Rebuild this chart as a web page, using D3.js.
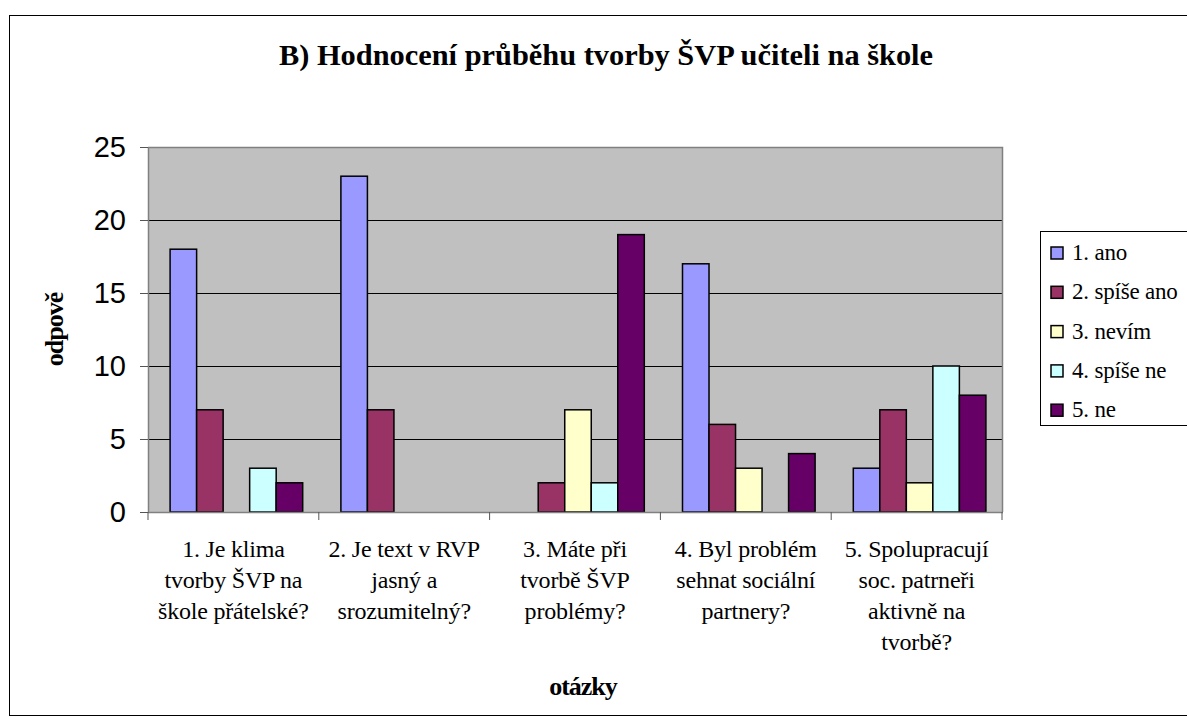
<!DOCTYPE html>
<html><head><meta charset="utf-8">
<script src="https://cdn.jsdelivr.net/npm/d3@7"></script>
<style>
html,body{margin:0;padding:0;background:#fff;}
svg{display:block;}
.serif{font-family:"Liberation Serif","Times New Roman",serif;}
.sans{font-family:"Liberation Sans",Arial,sans-serif;}
</style></head>
<body>
<svg id="chart" width="1187" height="725"></svg>
<script>
const categories = [
  ["1. Je klima","tvorby ŠVP na","škole přátelské?"],
  ["2. Je text v RVP","jasný a","srozumitelný?"],
  ["3. Máte při","tvorbě ŠVP","problémy?"],
  ["4. Byl problém","sehnat sociální","partnery?"],
  ["5. Spolupracují","soc. patrneři","aktivně na","tvorbě?"]
];
const seriesNames = ["1. ano","2. spíše ano","3. nevím","4. spíše ne","5. ne"];
const seriesColors = ["#9999FF","#993366","#FFFFCC","#CCFFFF","#660066"];
const ano      = [18,23,0,17,3];
const spiseAno = [7,7,2,6,7];
const nevim    = [0,0,7,3,2];
const spiseNe  = [3,0,2,0,10];
const ne       = [2,0,19,4,8];
const yTicks = [0,5,10,15,20,25];
const titleText = "B) Hodnocení průběhu tvorby ŠVP učiteli na škole";
const yTitle = "odpově";
const xTitle = "otázky";

const values = [ano, spiseAno, nevim, spiseNe, ne];
const svg = d3.select("#chart");

// outer border
svg.append("rect").attr("x",9.5).attr("y",15.5).attr("width",1200).attr("height",700)
  .attr("fill","#fff").attr("stroke","#000").attr("stroke-width",1);

const L=148, R=1002, T=147, B=512;
const x0 = d3.scaleBand().domain(d3.range(categories.length)).range([L,R]).padding(0);
const x1 = d3.scaleBand().domain(d3.range(seriesNames.length)).range([0,x0.bandwidth()]).paddingInner(0).paddingOuter(0.72);
const y = d3.scaleLinear().domain([0,25]).range([B,T]);

svg.append("rect").attr("x",L).attr("y",T).attr("width",R-L).attr("height",B-T).attr("fill","#C0C0C0");

// gridlines
svg.append("g").selectAll("line").data(yTicks.filter(d=>d>0&&d<25)).join("line")
  .attr("x1",L).attr("x2",R).attr("y1",d=>Math.round(y(d))+0.5).attr("y2",d=>Math.round(y(d))+0.5)
  .attr("stroke","#000").attr("stroke-width",1);
// plot border top/right
svg.append("path").attr("d",`M${L},${T+0.5}H${R+0.5}V${B}`).attr("fill","none").attr("stroke","#808080").attr("stroke-width",1.5);

// bars
const groups = svg.append("g").selectAll("g").data(categories).join("g")
  .attr("transform",(d,i)=>`translate(${x0(i)+3},0)`);
groups.selectAll("rect").data((d,i)=>values.map((s,j)=>({v:s[i],j}))).join("rect")
  .filter(d=>d.v>0)
  .attr("x",d=>x1(d.j)).attr("width",x1.bandwidth())
  .attr("y",d=>y(d.v)).attr("height",d=>y(0)-y(d.v))
  .attr("fill",d=>seriesColors[d.j]).attr("stroke","#000").attr("stroke-width",1.5);

// y axis
const yAxis = svg.append("g").attr("transform",`translate(${L},0)`)
  .call(d3.axisLeft(y).tickValues(yTicks).tickSize(8).tickPadding(14).tickSizeOuter(0));
yAxis.attr("font-family",null).attr("font-size",null);
yAxis.select(".domain").attr("stroke","#808080").attr("stroke-width",1.5);
yAxis.selectAll(".tick line").attr("stroke","#555");
yAxis.selectAll("text").attr("class","sans").style("font-size","29px").attr("fill","#000");

// x axis
const xAxis = svg.append("g").attr("transform",`translate(0,${B})`);
xAxis.append("line").attr("x1",L).attr("x2",R+1).attr("y1",0.5).attr("y2",0.5).attr("stroke","#808080").attr("stroke-width",1.5);
xAxis.selectAll("line.tk").data(d3.range(categories.length+1)).join("line").attr("class","tk")
  .attr("x1",i=>i<categories.length?x0(i):R).attr("x2",i=>i<categories.length?x0(i):R)
  .attr("y1",0).attr("y2",8).attr("stroke","#555");
const lab = xAxis.selectAll("text.cl").data(categories).join("text").attr("class","cl serif")
  .attr("text-anchor","middle").style("font-size","24px").style("letter-spacing","-0.2px")
  .attr("fill","#000");
lab.each(function(lines,i){
  d3.select(this).selectAll("tspan").data(lines).join("tspan")
    .attr("x",x0(i)+x0.bandwidth()/2).attr("y",(d,k)=>45+k*31).text(d=>d);
});

// titles
svg.append("text").attr("class","serif").attr("x",606).attr("y",65).attr("text-anchor","middle")
  .style("font-weight","bold").style("font-size","30px")
  .attr("textLength",654).attr("lengthAdjust","spacingAndGlyphs").text(titleText);
svg.append("text").attr("class","serif").attr("x",583).attr("y",695).attr("text-anchor","middle")
  .style("font-weight","bold").style("font-size","26px").style("letter-spacing","-1px").text(xTitle);
svg.append("text").attr("class","serif").attr("transform",`translate(63,${(T+B)/2}) rotate(-90)`).attr("text-anchor","middle")
  .style("font-weight","bold").style("font-size","26px").style("letter-spacing","-1px").text(yTitle);

// legend
const lg = svg.append("g");
lg.append("rect").attr("x",1040.5).attr("y",231.5).attr("width",170).attr("height",194)
  .attr("fill","#fff").attr("stroke","#000").attr("stroke-width",1);
const li = lg.selectAll("g").data(seriesNames).join("g")
  .attr("transform",(d,i)=>`translate(1051,${253+i*39.3})`);
li.append("rect").attr("x",0).attr("y",-6).attr("width",12).attr("height",12)
  .attr("fill",(d,i)=>seriesColors[i]).attr("stroke","#000").attr("stroke-width",1.5);
li.append("text").attr("class","serif").attr("x",21).attr("y",7).style("font-size","23px")
  .style("letter-spacing","-0.2px").text(d=>d);
</script>
</body></html>
